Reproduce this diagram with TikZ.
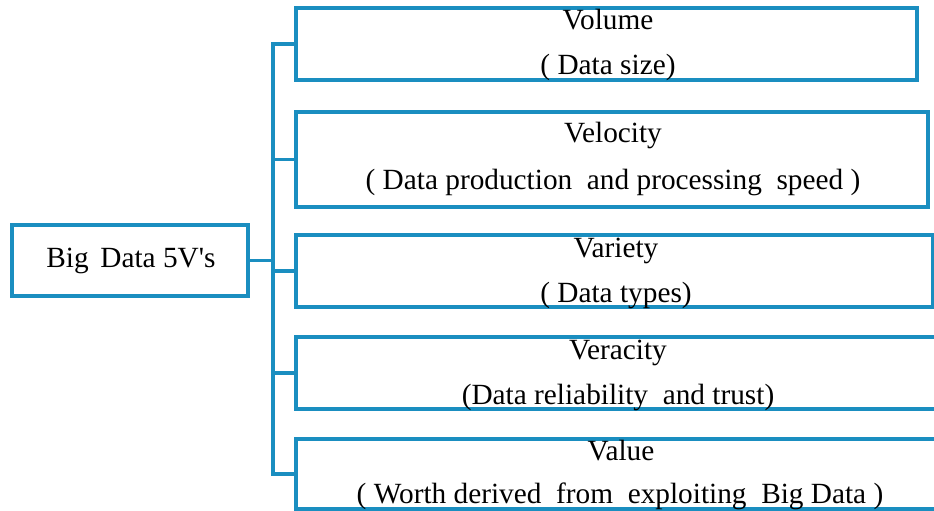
\documentclass[tikz,border=0pt]{standalone}
\usepackage{fontspec}
\setmainfont{Liberation Serif}
\definecolor{vblue}{RGB}{26,142,192}
\tikzset{
  vbox/.style={draw=vblue, line width=3.3bp, rectangle, inner sep=0pt},
  conn/.style={draw=vblue, line width=3.3bp},
  vtext/.style={anchor=base, inner sep=0pt, font=\fontsize{29.3bp}{34bp}\selectfont, text=black}
}
\newcommand{\dsp}{\hspace{0.5em}}
\begin{document}
\begin{tikzpicture}[x=1bp, y=-1bp]
  \useasboundingbox (0,0) rectangle (934,511);
  \clip (0,0) rectangle (934,511);

  % root box
  \node[vbox, minimum width=236bp, minimum height=71bp] (root) at (130,260.5) {};
  \node[vtext] (roottext) at (131,268) {Big\hspace{0.4em}Data 5V\textquotesingle s};

  % the five V boxes
  \node[vbox, minimum width=621bp, minimum height=72bp] (b1) at (606.5,44) {};
  \node[vbox, minimum width=632bp, minimum height=95bp] (b2) at (612,159.5) {};
  \node[vbox, minimum width=637bp, minimum height=72bp] (b3) at (614.5,271) {};
  \node[vbox, minimum width=649bp, minimum height=72bp] (b4) at (620.5,373) {};
  \node[vbox, minimum width=649bp, minimum height=70bp] (b5) at (620.5,474) {};

  % labels inside the boxes
  \node[vtext] (t1a) at (608,30) {Volume};
  \node[vtext] (t1b) at (608,75) {( Data size)};
  \node[vtext] (t2a) at (613,143) {Velocity};
  \node[vtext] (t2b) at (613,190) {( Data production\dsp and processing\dsp speed )};
  \node[vtext] (t3a) at (616,258) {Variety};
  \node[vtext] (t3b) at (616,303) {( Data types)};
  \node[vtext] (t4a) at (618,360) {Veracity};
  \node[vtext] (t4b) at (618,404) {(Data reliability\dsp and trust)};
  \node[vtext] (t5a) at (621,460) {Value};
  \node[vtext] (t5b) at (620,503) {( Worth derived\dsp from\dsp exploiting\dsp Big Data )};

  % tree connectors: trunk with first and last branch, then the middle branches
  \coordinate (tx) at (273,0);
  \draw[conn] (b1.west) -- (b1.west -| tx) -- (b5.west -| tx) -- (b5.west);
  \draw[conn] (root.east) -- (root.east -| tx);
  \foreach \b in {b2,b3,b4}
    \draw[conn] (\b.west -| tx) -- (\b.west);
\end{tikzpicture}
\end{document}
